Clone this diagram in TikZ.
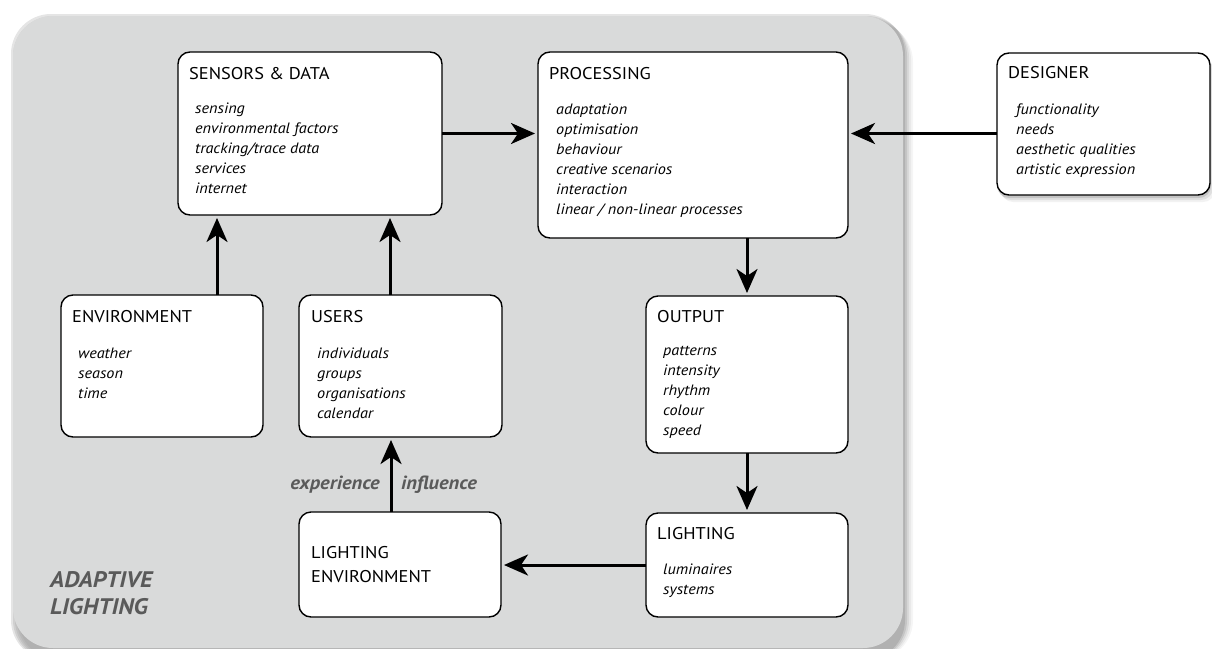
\documentclass[tikz,border=0pt]{standalone}
\usepackage{fontspec}
\setmainfont{PT Sans}[FakeStretch=1.08]
\usetikzlibrary{arrows.meta,calc}
\definecolor{panelgray}{RGB}{217,218,218}
\definecolor{labelgray}{RGB}{90,90,90}
\begin{document}
\begin{tikzpicture}[x=1pt,y=-1pt,
  box/.style={draw=black, line width=1.4pt, fill=white, rounded corners=12pt, anchor=north west, inner sep=0pt, outer sep=0pt},
  ttl/.style={font=\fontsize{17}{22}\selectfont, anchor=base west, inner sep=0pt},
  itm/.style={font=\fontsize{15}{20}\selectfont\itshape, anchor=north west, inner sep=0pt, align=left},
  conn/.style={line width=3pt, -{Stealth[length=24pt,width=21pt,inset=7pt]}, shorten >=3pt},
  flowlabel/.style={font=\fontsize{19}{20}\selectfont\bfseries\itshape, text=labelgray, inner sep=0pt},
  shadowlayer/.style={fill=black, rounded corners=40pt}]
\useasboundingbox (0,0) rectangle (1212,648);
% panel shadow
\foreach \d/\o in {10/0.04,8/0.05,6/0.07,4/0.09,2/0.1}{
  \fill[shadowlayer, fill opacity=\o] (13+\d-4,16+\d-4) rectangle (903+\d,660);
}
\fill[panelgray, rounded corners=40pt] (13,16) rectangle (903,648);
% designer shadow
\foreach \d/\o in {7/0.05,5/0.08,3/0.12}{
  \fill[fill=black, rounded corners=12pt, fill opacity=\o] (997+\d-3,53+\d) rectangle (1210+\d-2,195+\d);
}
% boxes
\node[box, minimum width=264pt, minimum height=163pt] (sens) at (178,52) {};
\node[box, minimum width=310pt, minimum height=186pt] (proc) at (538,52) {};
\node[box, minimum width=213pt, minimum height=142pt] (des) at (997,53) {};
\node[box, minimum width=202pt, minimum height=142pt] (env) at (61,295) {};
\node[box, minimum width=203pt, minimum height=142pt] (users) at (299,295) {};
\node[box, minimum width=202pt, minimum height=157pt] (out) at (646,296) {};
\node[box, minimum width=202pt, minimum height=104pt] (light) at (646,513) {};
\node[box, minimum width=202pt, minimum height=105pt] (lenv) at (299,512) {};
% titles
\node[ttl] (senst) at (189,79) {SENSORS \& DATA};
\node[ttl] (proct) at (549,79) {PROCESSING};
\node[ttl] (dest) at (1008,78) {DESIGNER};
\node[ttl] (envt) at (72,322) {ENVIRONMENT};
\node[ttl] (userst) at (311,322) {USERS};
\node[ttl] (outt) at (657,322) {OUTPUT};
\node[ttl] (lightt) at (657,539) {LIGHTING};
\node[ttl, anchor=north west, align=left, font=\fontsize{17}{24}\selectfont] (lenvt) at (311,546) {LIGHTING\\ENVIRONMENT};
% items
\node[itm] (sensi) at (195,102) {\rule{0pt}{11pt}sensing\\environmental factors\\tracking/trace data\\services\\internet};
\node[itm] (proci) at (556,103) {\rule{0pt}{11pt}adaptation\\optimisation\\behaviour\\creative scenarios\\interaction\\linear / non-linear processes};
\node[itm] (desi) at (1016,103) {\rule{0pt}{11pt}functionality\\needs\\aesthetic qualities\\artistic expression};
\node[itm] (envi) at (78,347) {\rule{0pt}{11pt}weather\\season\\time};
\node[itm] (usersi) at (317,347) {\rule{0pt}{11pt}individuals\\groups\\organisations\\calendar};
\node[itm] (outi) at (663,344) {\rule{0pt}{11pt}patterns\\intensity\\rhythm\\colour\\speed};
\node[itm] (lighti) at (663,563) {\rule{0pt}{11pt}luminaires\\systems};
% connectors
\draw[conn] (sens.east) -- (sens.east -| proc.west);
\draw[conn] (des.west |- sens.east) -- (sens.east -| proc.east);
\coordinate (envtop) at ([xshift=156pt]env.north west);
\draw[conn] (envtop) -- (envtop |- sens.south);
\coordinate (userstop) at ([xshift=91pt]users.north west);
\draw[conn] (userstop) -- (userstop |- sens.south);
\draw[conn] (proc.south -| out.north) -- (out.north);
\draw[conn] (out.south) -- (light.north);
\draw[conn] (light.west) -- (light.west -| lenv.east);
\coordinate (lenvtop) at ([xshift=92pt]lenv.north west);
\draw[conn] (lenvtop) -- (lenvtop |- users.south);
% flow labels
\node[flowlabel, anchor=base east] (exper) at (380,489) {experience};
\node[flowlabel, anchor=base west] (influ) at (401,489) {influence};
% panel label
\node[font=\fontsize{22.5}{27}\selectfont\bfseries\itshape, text=labelgray, anchor=north west, align=left, inner sep=0pt] (adapt) at (50,571) {ADAPTIVE\\LIGHTING};
\end{tikzpicture}
\end{document}
